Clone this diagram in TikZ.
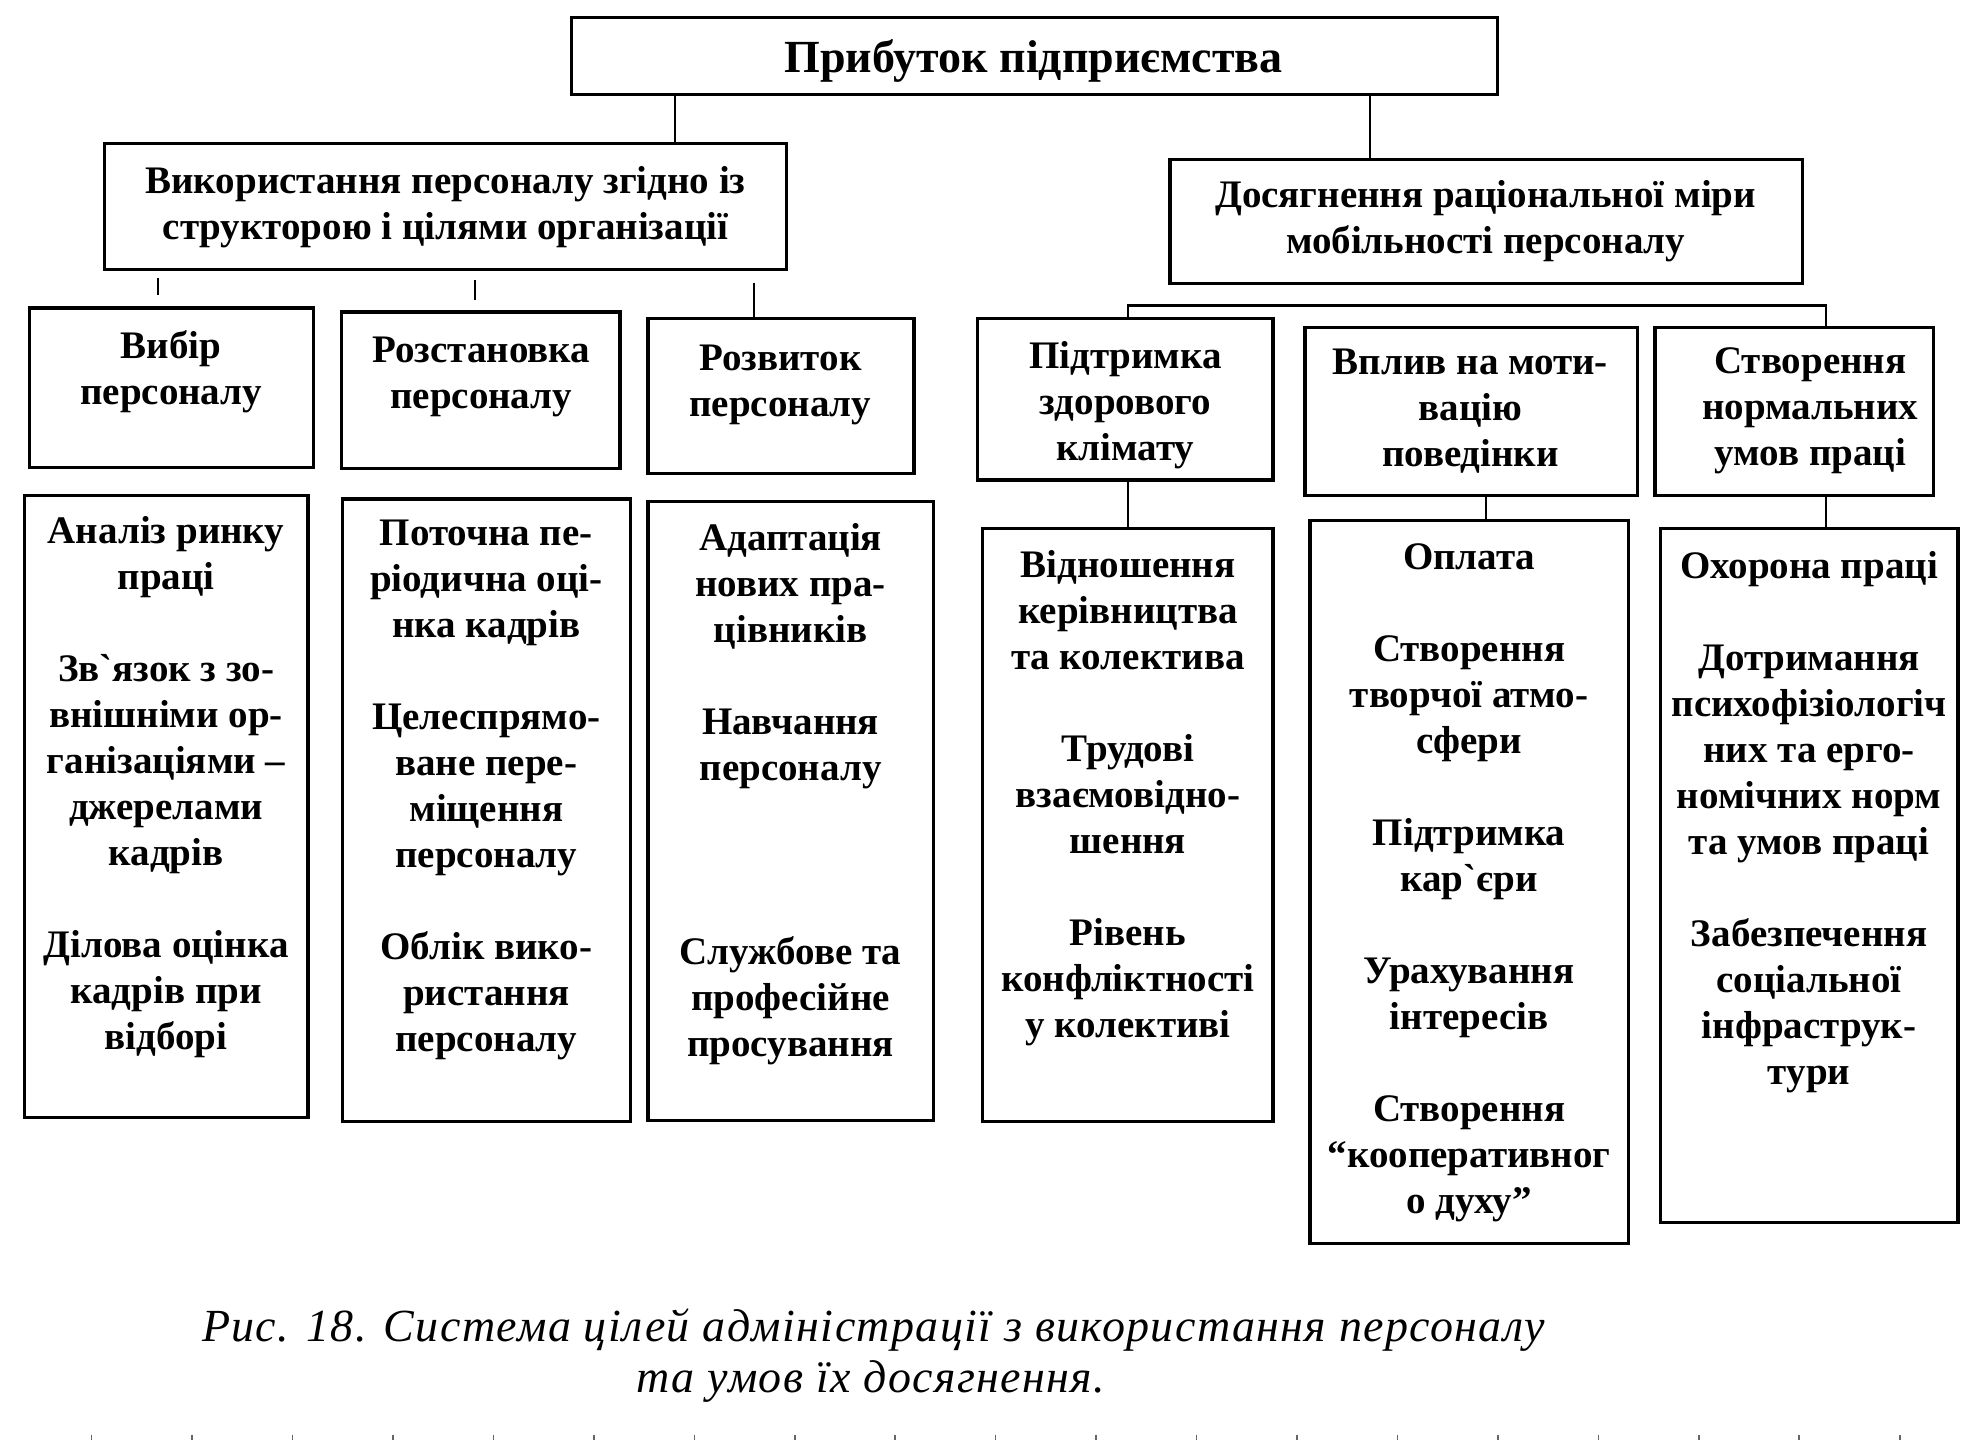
\documentclass[tikz,border=0pt]{standalone}
\usepackage{fontspec}
\setmainfont{Liberation Serif}[Ligatures=TeXOff]
\newfontfamily\capfont[LetterSpace=3,Ligatures=TeXOff]{Liberation Serif}
\usetikzlibrary{fit}
\tikzset{
  box/.style={draw, line width=1.6pt, inner sep=0pt},
  txt/.style={font=\fontsize{19.5}{23}\selectfont\bfseries, align=center, inner sep=0pt},
  conn/.style={line width=1.1pt},
  captxt/.style={font={\capfont\itshape\fontsize{23}{27}\selectfont}, inner sep=0pt},
  tick/.style={line width=0.8pt, black!60},
}
\begin{document}
\begin{tikzpicture}[x=0.6366pt,y=-0.6366pt]
\path[use as bounding box, fill=white] (0,0) rectangle (1560,1131);

% level 1
\node[box, fit={(449,14) (1176,74)}] (top) {};
\node[txt, font=\fontsize{23}{27}\selectfont\bfseries] (topt) at (812,48) {Прибуток підприємства};

% level 2
\node[box, fit={(82,113) (618,212)}] (ml) {};
\node[txt] (mlt) at (350,163) {Використання персоналу згідно із\\структорою і цілями організації};
\node[box, fit={(919,125) (1416,223)}] (mr) {};
\node[txt] (mrt) at (1167,174) {Досягнення раціональної міри\\мобільності персоналу};

% level 3
\node[box, fit={(23,242) (246,367)}] (b1) {};
\node[txt] (b1t) at (134.5,292) {Вибір\\персоналу};
\node[box, fit={(268,245) (487,368)}] (b2) {};
\node[txt] (b2t) at (378,296) {Розстановка\\персоналу};
\node[box, fit={(509,250) (718,372)}] (b3) {};
\node[txt] (b3t) at (613,302) {Розвиток\\персоналу};
\node[box, fit={(768,250) (1000,377)}] (b4) {};
\node[txt] (b4t) at (884,318) {Підтримка\\здорового\\клімату};
\node[box, fit={(1025,257) (1286,389)}] (b5) {};
\node[txt] (b5t) at (1155,323) {Вплив на моти-\\вацію\\поведінки};
\node[box, fit={(1300,257) (1519,389)}] (b6) {};
\node[txt] (b6t) at (1422,323) {Створення\\нормальних\\умов праці};

% level 4
\node[box, fit={(19,389) (242,878)}] (c1) {};
\node[txt] (c1t) at (130.5,618) {Аналіз ринку\\праці\\[23pt]Зв`язок з зо-\\внішніми ор-\\ганізаціями –\\джерелами\\кадрів\\[23pt]Ділова оцінка\\кадрів при\\відборі};
\node[box, fit={(269,392) (495,881)}] (c2) {};
\node[txt] (c2t) at (382,620.5) {Поточна пе-\\ріодична оці-\\нка кадрів\\[23pt]Целеспрямо-\\ване пере-\\міщення\\персоналу\\[23pt]Облік вико-\\ристання\\персоналу};
\node[box, fit={(509,394) (733,880)}] (c3) {};
\node[txt] (c3t) at (621,624) {Адаптація\\нових пра-\\цівників\\[23pt]Навчання\\персоналу\\[69pt]Службове та\\професійне\\просування};
\node[box, fit={(772,415) (1000,881)}] (c4) {};
\node[txt] (c4t) at (886,627) {Відношення\\керівництва\\та колектива\\[23pt]Трудові\\взаємовідно-\\шення\\[23pt]Рівень\\конфліктності\\у колективі};
\node[box, fit={(1029,409) (1279,977)}] (c5) {};
\node[txt] (c5t) at (1154,693.5) {Оплата\\[23pt]Створення\\творчої атмо-\\сфери\\[23pt]Підтримка\\кар`єри\\[23pt]Урахування\\інтересів\\[23pt]Створення\\“кооперативног\\о духу”};
\node[box, fit={(1304,415) (1538,960)}] (c6) {};
\node[txt] (c6t) at (1421,645.5) {Охорона праці\\[23pt]Дотримання\\психофізіологіч\\них та ерго-\\номічних норм\\та умов праці\\[23pt]Забезпечення\\соціальної\\інфраструк-\\тури};

% connectors
\coordinate (k1) at (530,0);
\draw[conn] (top.south -| k1) -- (ml.north -| k1);
\coordinate (k2) at (1076,0);
\draw[conn] (top.south -| k2) -- (mr.north -| k2);

\coordinate (t1a) at (124,218); \coordinate (t1b) at (124,232);
\draw[conn] (t1a) -- (t1b);
\coordinate (t2a) at (373,220); \coordinate (t2b) at (373,236);
\draw[conn] (t2a) -- (t2b);
\coordinate (t3) at (592,222);
\draw[conn] (t3) -- (b3.north -| t3);

\coordinate (br1) at (886,240); \coordinate (br2) at (1434,240);
\draw[conn] (b4.north -| br1) -- (br1) -- (br2) -- (b6.north -| br2);

\coordinate (d4) at (886,0);
\draw[conn] (b4.south -| d4) -- (c4.north -| d4);
\coordinate (d5) at (1167,0);
\draw[conn] (b5.south -| d5) -- (c5.north -| d5);
\coordinate (d6) at (1434,0);
\draw[conn] (b6.south -| d6) -- (c6.north -| d6);

% caption
\node[captxt] (cap1) at (686,1045) {Рис. 18. Система цілей адміністрації з використання персоналу};
\node[captxt] (cap2) at (684,1085) {та умов їх досягнення.};

% scan ruler ticks
\foreach \i in {0,...,18} \draw[tick] (72+78.9*\i,1127) -- ++(0,9);
\end{tikzpicture}
\end{document}
